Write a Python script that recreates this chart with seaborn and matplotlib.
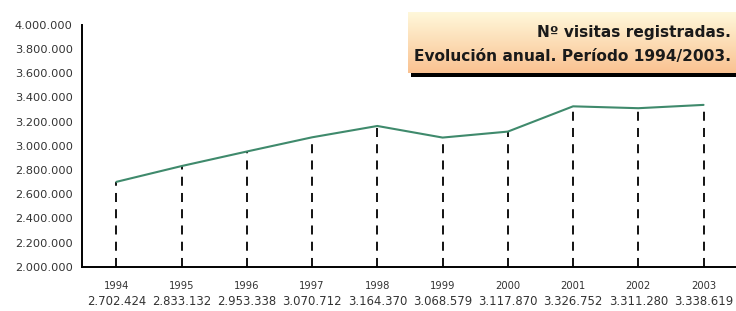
import numpy as np
import pandas as pd
import seaborn as sns
import matplotlib
matplotlib.use("Agg")
from matplotlib import pyplot as plt
from matplotlib import transforms

years = ["1994", "1995", "1996", "1997", "1998", "1999", "2000", "2001", "2002", "2003"]
visitas = [2702424, 2833132, 2953338, 3070712, 3164370, 3068579, 3117870, 3326752, 3311280, 3338619]
y_ticks = [2000000, 2200000, 2400000, 2600000, 2800000, 3000000,
           3200000, 3400000, 3600000, 3800000, 4000000]
title_lines = ["Nº visitas registradas.", "Evolución anual. Período 1994/2003."]


def fmt(v):
    # thousands separator with dots, spanish style
    return f"{v:,}".replace(",", ".")


sns.set_style("white")
plt.rcParams['font.family'] = ['DejaVu Sans']

df = pd.DataFrame({'x': np.arange(len(years)), 'visitas': visitas})

fig = plt.figure(figsize=(7.36, 3.11), dpi=100)
ax = fig.add_axes([0.112, 0.142, 0.89, 0.778])

# drop lines
ax.vlines(df['x'], y_ticks[0], df['visitas'], colors='black', linestyles=(0, (5, 4)), lw=1.3)
sns.lineplot(data=df, x='x', y='visitas', ax=ax, color='#3f8a6c', lw=1.5)

ax.set_xlim(-0.52, len(years) - 0.48)
ax.set_ylim(y_ticks[0], y_ticks[-1])
ax.set_yticks(y_ticks)
ax.set_yticklabels([fmt(v) for v in y_ticks], fontsize=8.2, color='#333333')
ax.set_xticks(df['x'])
ax.set_xticklabels(years, fontsize=7.2, color='#333333')
ax.tick_params(axis='both', direction='out', length=4, width=1.2, color='black', pad=3)
ax.tick_params(axis='x', pad=6)
ax.set_xlabel('')
ax.set_ylabel('')
for s in ['top', 'right']:
    ax.spines[s].set_visible(False)
for s in ['left', 'bottom']:
    ax.spines[s].set_color('black')
    ax.spines[s].set_linewidth(1.4)

# values under the years
trans = transforms.blended_transform_factory(ax.transData, ax.transAxes)
for i, v in enumerate(visitas):
    ax.text(i, -0.145, fmt(v), transform=trans, ha='center', va='center',
            fontsize=8.4, color='#333333')

# title box with gradient and shadow
shadow = fig.add_axes([0.558, 0.753, 0.45, 0.012])
shadow.set_facecolor('black')
shadow.set_xticks([])
shadow.set_yticks([])
for s in shadow.spines.values():
    s.set_visible(False)

box = fig.add_axes([0.554, 0.765, 0.45, 0.198])
grad = np.linspace(0, 1, 64).reshape(-1, 1)
top_c = np.array([1.0, 0.975, 0.86])
bot_c = np.array([0.98, 0.76, 0.57])
img = top_c[None, None, :] * (1 - grad[:, :, None]) + bot_c[None, None, :] * grad[:, :, None]
box.imshow(img, aspect='auto', extent=[0, 1, 0, 1], origin='upper')
box.set_xlim(0, 1)
box.set_ylim(0, 1)
box.axis('off')
box.text(0.975, 0.66, title_lines[0], ha='right', va='center', fontsize=11.1,
         fontweight='bold', color='#1a1a1a')
box.text(0.975, 0.27, title_lines[1], ha='right', va='center', fontsize=11.1,
         fontweight='bold', color='#1a1a1a')

fig.savefig('out.png', dpi=100)
